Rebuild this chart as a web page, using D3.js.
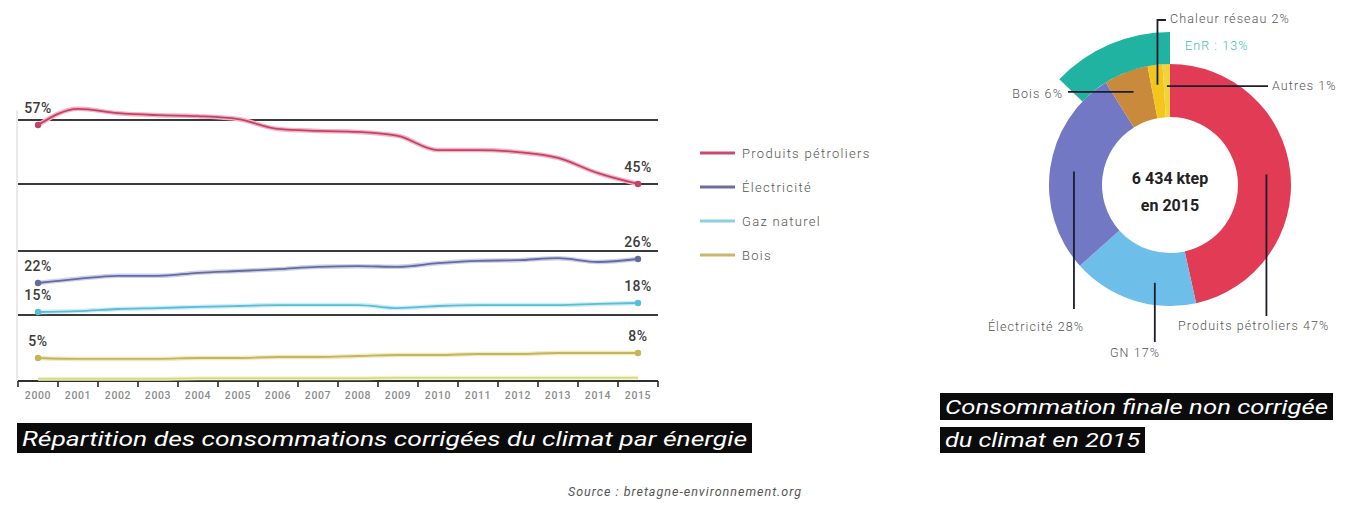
<!DOCTYPE html>
<html>
<head>
<meta charset="utf-8">
<script src="https://cdn.jsdelivr.net/npm/d3@7"></script>
<style>
  html, body { margin: 0; padding: 0; background: #fff; }
  svg { display: block; }
  text { font-family: Roboto, "Noto Sans", sans-serif; }
</style>
</head>
<body>
<svg id="chart" width="1354" height="506"></svg>
<script>
// ---- Données : parts de la consommation corrigée du climat (%) ----
const years = [2000, 2001, 2002, 2003, 2004, 2005, 2006, 2007, 2008, 2009, 2010, 2011, 2012, 2013, 2014, 2015];
const petrole     = [57, 60.3, 59.4, 59.0, 58.8, 58.2, 56.2, 55.8, 55.6, 54.8, 51.9, 51.9, 51.5, 50.3, 47.2, 45];
const electricite = [22, 22.7, 23.2, 23.2, 23.7, 24.0, 24.3, 24.7, 24.8, 24.7, 25.3, 25.7, 25.8, 26.2, 25.5, 26];
const gaz         = [15, 15.3, 16.0, 16.3, 16.7, 17.0, 17.3, 17.3, 17.3, 16.3, 17.0, 17.3, 17.3, 17.3, 17.7, 18];
const bois        = [5, 4.8, 4.8, 4.8, 5.0, 5.0, 5.6, 5.6, 6.2, 6.8, 6.8, 7.4, 7.4, 8.0, 8.0, 8];
const autresEnergies = [0.5, 0.5, 0.5, 0.5, 0.6, 0.6, 0.6, 0.6, 0.6, 0.7, 0.7, 0.7, 0.7, 0.7, 0.7, 0.7];
const seriesNames = ["Produits pétroliers", "Électricité", "Gaz naturel", "Bois"];
// niveaux des filets horizontaux (%)
const reperes = [58, 45, 28, 14.5];

// ---- Données : consommation finale non corrigée 2015 ----
const partsLabels = ["Produits pétroliers", "GN", "Électricité", "Bois", "Chaleur réseau", "Autres"];
const partsValues = [47, 17, 28, 6, 2, 1];
const enrLabel = "EnR";
const enrValue = 13;
const totalLabel = ["6 434 ktep", "en 2015"];

const titreGauche = "Répartition des consommations corrigées du climat par énergie";
const titreDroite = ["Consommation finale non corrigée", "du climat en 2015"];
const source = "Source : bretagne-environnement.org";

const svg = d3.select("#chart");
svg.append("rect").attr("width", 1354).attr("height", 506).attr("fill", "#fff");

// ================= Courbes =================
const x = d3.scaleBand().domain(years).range([18, 658]);
const xc = d => x(d) + x.bandwidth() / 2;
// échelle par paliers : chaque famille d'énergie occupe sa propre bande verticale
const y = d3.scaleLinear()
  .domain([0, 5, 8, 15, 18, 22, 26, 45, 57])
  .range([381, 358, 353, 312, 303, 283, 259, 184, 125]);

const g = svg.append("g");

// axe vertical discret
g.append("line").attr("x1", 17).attr("x2", 17)
  .attr("y1", y(60)).attr("y2", y(0))
  .attr("stroke", "#dcdcdc").attr("stroke-width", 1.2);

// filets horizontaux
g.selectAll("line.repere").data(reperes).join("line")
  .attr("class", "repere")
  .attr("x1", 18).attr("x2", 658)
  .attr("y1", d => y(d)).attr("y2", d => y(d))
  .attr("stroke", "#3a3a3a").attr("stroke-width", 2);

const series = [
  { name: seriesNames[0], values: petrole,     color: "#c24368", halo: "#f4b3c4", legend: "#c84a70" },
  { name: seriesNames[1], values: electricite, color: "#666b9f", halo: "#cdd0ea", legend: "#6c6f9c" },
  { name: seriesNames[2], values: gaz,         color: "#5bbcd6", halo: "#cdeef6", legend: "#8ccfe0" },
  { name: seriesNames[3], values: bois,        color: "#c4b45c", halo: "#f1eac0", legend: "#c9b570" },
];
const extra = { values: autresEnergies, color: "#d2d77a", halo: "#f1f3c8" };

const line = d3.line()
  .x((d, i) => xc(years[i]))
  .y(d => y(d))
  .curve(d3.curveMonotoneX);

// axe des années
const axisY = y(0);
g.append("line").attr("x1", 18).attr("x2", 658).attr("y1", axisY).attr("y2", axisY)
  .attr("stroke", "#2e2e2e").attr("stroke-width", 2);
const edges = years.map(d => x(d)).concat([x(years[years.length - 1]) + x.bandwidth()]);
g.selectAll("line.tick").data(edges).join("line")
  .attr("class", "tick")
  .attr("x1", d => d).attr("x2", d => d)
  .attr("y1", axisY).attr("y2", axisY + 6)
  .attr("stroke", "#2e2e2e").attr("stroke-width", 1.6);
g.selectAll("text.year").data(years).join("text")
  .attr("class", "year")
  .attr("x", d => xc(d)).attr("y", axisY + 18)
  .attr("text-anchor", "middle")
  .attr("font-size", 10.5).attr("font-weight", 500)
  .attr("letter-spacing", 0.6)
  .attr("fill", "#8c8c8c")
  .text(d => d);

// série discrète au ras de l'axe
g.append("path").attr("d", line(extra.values)).attr("fill", "none")
  .attr("stroke", extra.halo).attr("stroke-width", 4);
g.append("path").attr("d", line(extra.values)).attr("fill", "none")
  .attr("stroke", extra.color).attr("stroke-width", 1.5);

series.forEach(s => {
  g.append("path").attr("d", line(s.values)).attr("fill", "none")
    .attr("stroke", s.halo).attr("stroke-width", 4.5).attr("stroke-linecap", "round");
  g.append("path").attr("d", line(s.values)).attr("fill", "none")
    .attr("stroke", s.color).attr("stroke-width", 1.8).attr("stroke-linecap", "round");
  const ends = [0, s.values.length - 1];
  ends.forEach(i => {
    g.append("circle").attr("cx", xc(years[i])).attr("cy", y(s.values[i])).attr("r", 3.2)
      .attr("fill", s.color);
    g.append("text")
      .attr("x", xc(years[i])).attr("y", y(s.values[i]) - 12)
      .attr("text-anchor", "middle")
      .attr("font-size", 14).attr("font-weight", 500)
      .attr("letter-spacing", 0.5)
      .attr("fill", "#3c3c3c")
      .text(Math.round(s.values[i]) + "%");
  });
});

// légende
const leg = svg.append("g").attr("transform", "translate(700,153)");
series.forEach((s, i) => {
  const row = leg.append("g").attr("transform", `translate(0,${i * 34})`);
  row.append("line").attr("x1", 0).attr("x2", 35).attr("y1", 0).attr("y2", 0)
    .attr("stroke", s.legend).attr("stroke-width", 3.2);
  row.append("text").attr("x", 42).attr("y", 4.5)
    .attr("font-size", 13).attr("font-weight", 300).attr("letter-spacing", 1.3)
    .attr("fill", "#555").text(s.name);
});

// ================= Anneau =================
const cx = 1170, cy = 185, rIn = 68, rOut = 121, rEnr = 153;
const colors = ["#e23b55", "#6dbee8", "#7378c5", "#c98b3b", "#f2c61c", "#f1d43a"];
const ring = svg.append("g").attr("transform", `translate(${cx},${cy})`);
const pie = d3.pie().sort(null).value(d => d);
const arcs = pie(partsValues);
const arc = d3.arc().innerRadius(rIn).outerRadius(rOut);
ring.selectAll("path.part").data(arcs).join("path")
  .attr("class", "part")
  .attr("d", arc)
  .attr("fill", (d, i) => colors[i]);

// arc extérieur des énergies renouvelables, qui se termine à midi
const total = d3.sum(partsValues);
ring.append("path")
  .attr("d", d3.arc().innerRadius(rOut).outerRadius(rEnr)
    .startAngle(-2 * Math.PI * enrValue / total).endAngle(0)())
  .attr("fill", "#21b3a1");

// texte central
ring.selectAll("text.total").data(totalLabel).join("text")
  .attr("class", "total")
  .attr("x", 0).attr("y", (d, i) => -1 + i * 27)
  .attr("text-anchor", "middle")
  .attr("font-size", 16).attr("font-weight", 700)
  .attr("fill", "#222")
  .text(d => d);

// étiquettes et traits de rappel
const ancre = (i, r, nudge = 0) => {
  const a = (arcs[i].startAngle + arcs[i].endAngle) / 2 + nudge * Math.PI / 180;
  return [r * Math.sin(a), -r * Math.cos(a)];
};
const lead = "#1b1d2c";
const labelStyle = sel => sel.attr("font-size", 12.5).attr("font-weight", 300)
  .attr("letter-spacing", 1.1).attr("fill", "#555");

const layout = [
  { i: 0, r: 97, nudge: 0,  path: p => [p, [p[0], 131]], text: [8, 145], anchor: "start" },
  { i: 1, r: 99, nudge: -9, path: p => [p, [p[0], 157]], text: [-35, 172], anchor: "middle" },
  { i: 2, r: 97, nudge: 0,  path: p => [p, [p[0], 124]], text: [-134, 146], anchor: "middle" },
  { i: 3, r: 100, nudge: 0, path: p => [p, [-102, p[1]]], text: [-107, -87], anchor: "end" },
  { i: 4, r: 101, nudge: 0, path: p => [p, [p[0], -165], [-4, -165]], text: [0, -162], anchor: "start" },
  { i: 5, r: 99, nudge: 0,  path: p => [p, [98, p[1]]], text: [102, -95], anchor: "start" },
];
layout.forEach(l => {
  const p = ancre(l.i, l.r, l.nudge);
  ring.append("path")
    .attr("d", d3.line()(l.path(p)))
    .attr("fill", "none").attr("stroke", lead).attr("stroke-width", 1.8);
  ring.append("text")
    .attr("x", l.text[0]).attr("y", l.text[1])
    .attr("text-anchor", l.anchor)
    .call(labelStyle)
    .text(`${partsLabels[l.i]} ${partsValues[l.i]}%`);
});
ring.append("text").attr("x", 15).attr("y", -135)
  .call(labelStyle).attr("fill", "#3dbfae")
  .text(`${enrLabel} : ${enrValue}%`);

// ================= Titres =================
function bandeau(x0, y0, w, h, txt, size) {
  svg.append("rect").attr("x", x0).attr("y", y0).attr("width", w).attr("height", h).attr("fill", "#0b0b0b");
  svg.append("text").attr("x", x0 + 5).attr("y", y0 + h / 2 + size * 0.36)
    .attr("font-family", "'Open Sans', sans-serif")
    .attr("font-style", "italic").attr("font-size", size)
    .attr("fill", "#fff")
    .attr("textLength", w - 10).attr("lengthAdjust", "spacingAndGlyphs")
    .text(txt);
}
bandeau(17, 423, 735, 30, titreGauche, 21);
bandeau(940, 393, 393, 27, titreDroite[0], 20);
bandeau(940, 427, 205, 26, titreDroite[1], 20);

svg.append("text").attr("x", 685).attr("y", 496)
  .attr("text-anchor", "middle")
  .attr("font-style", "italic").attr("font-size", 12.5)
  .attr("letter-spacing", 1)
  .attr("fill", "#555")
  .text(source);
</script>
</body>
</html>
